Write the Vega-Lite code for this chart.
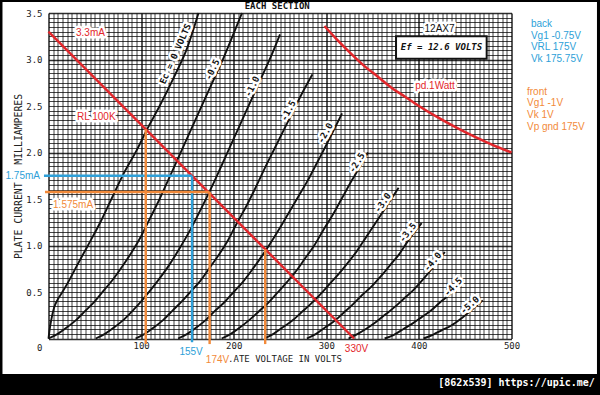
{
"$schema":"https://vega.github.io/schema/vega-lite/v6.json",
"width":463,"height":325.5,
"autosize":{"type":"none"},
"padding":{"left":48.5,"top":13,"right":88.5,"bottom":56.5},
"background":"white",
"config":{"view":{"stroke":null},"axis":{"labelFont":"DejaVu Sans Mono","titleFont":"DejaVu Sans Mono"}},
"datasets":{
"frame":[
{"V":-60,"V2":620,"I":-0.382,"I2":-0.9},
{"V":-60,"V2":620,"I":3.618,"I2":3.9},
{"V":-60,"V2":-49.7,"I":-1,"I2":4},
{"V":592.3,"V2":620,"I":-1,"I2":4}],
"heading":[{"text":"EACH SECTION","V":247,"I":3.575}],
"curves":[
{"Ec":0,"V":0,"I":0},{"Ec":0,"V":1,"I":0.08},{"Ec":0,"V":3,"I":0.2},{"Ec":0,"V":6,"I":0.33},{"Ec":0,"V":10,"I":0.42},{"Ec":0,"V":15,"I":0.5},{"Ec":0,"V":22,"I":0.62},{"Ec":0,"V":30,"I":0.77},{"Ec":0,"V":42,"I":0.99},{"Ec":0,"V":56,"I":1.25},{"Ec":0,"V":67,"I":1.48},{"Ec":0,"V":81,"I":1.77},{"Ec":0,"V":95,"I":2.02},{"Ec":0,"V":107,"I":2.26},{"Ec":0,"V":120,"I":2.5},{"Ec":0,"V":135,"I":2.8},{"Ec":0,"V":150,"I":3.13},{"Ec":0,"V":162,"I":3.5},
{"Ec":-0.5,"V":0,"I":0},{"Ec":-0.5,"V":10,"I":0.05},{"Ec":-0.5,"V":20,"I":0.12},{"Ec":-0.5,"V":30,"I":0.2},{"Ec":-0.5,"V":40,"I":0.3},{"Ec":-0.5,"V":50,"I":0.4},{"Ec":-0.5,"V":60,"I":0.52},{"Ec":-0.5,"V":70,"I":0.64},{"Ec":-0.5,"V":80,"I":0.78},{"Ec":-0.5,"V":90,"I":0.93},{"Ec":-0.5,"V":100,"I":1.1},{"Ec":-0.5,"V":110,"I":1.3},{"Ec":-0.5,"V":120,"I":1.5},{"Ec":-0.5,"V":130,"I":1.72},{"Ec":-0.5,"V":140,"I":1.94},{"Ec":-0.5,"V":150,"I":2.16},{"Ec":-0.5,"V":160,"I":2.38},{"Ec":-0.5,"V":170,"I":2.6},{"Ec":-0.5,"V":180,"I":2.82},{"Ec":-0.5,"V":190,"I":3.04},{"Ec":-0.5,"V":200,"I":3.28},{"Ec":-0.5,"V":209,"I":3.5},
{"Ec":-1,"V":51,"I":0},{"Ec":-1,"V":61,"I":0.05},{"Ec":-1,"V":71,"I":0.12},{"Ec":-1,"V":81,"I":0.2},{"Ec":-1,"V":91,"I":0.3},{"Ec":-1,"V":101,"I":0.41},{"Ec":-1,"V":111,"I":0.53},{"Ec":-1,"V":121,"I":0.66},{"Ec":-1,"V":131,"I":0.8},{"Ec":-1,"V":141,"I":0.96},{"Ec":-1,"V":151,"I":1.13},{"Ec":-1,"V":161,"I":1.32},{"Ec":-1,"V":171,"I":1.52},{"Ec":-1,"V":181,"I":1.73},{"Ec":-1,"V":191,"I":1.95},{"Ec":-1,"V":201,"I":2.17},{"Ec":-1,"V":211,"I":2.39},{"Ec":-1,"V":221,"I":2.61},{"Ec":-1,"V":231,"I":2.83},{"Ec":-1,"V":241,"I":3.05},{"Ec":-1,"V":250,"I":3.27},
{"Ec":-1.5,"V":94,"I":0},{"Ec":-1.5,"V":104,"I":0.05},{"Ec":-1.5,"V":114,"I":0.12},{"Ec":-1.5,"V":124,"I":0.2},{"Ec":-1.5,"V":134,"I":0.3},{"Ec":-1.5,"V":144,"I":0.4},{"Ec":-1.5,"V":154,"I":0.51},{"Ec":-1.5,"V":164,"I":0.62},{"Ec":-1.5,"V":174,"I":0.76},{"Ec":-1.5,"V":184,"I":0.9},{"Ec":-1.5,"V":194,"I":1.06},{"Ec":-1.5,"V":204,"I":1.25},{"Ec":-1.5,"V":214,"I":1.43},{"Ec":-1.5,"V":224,"I":1.63},{"Ec":-1.5,"V":234,"I":1.84},{"Ec":-1.5,"V":244,"I":2.04},{"Ec":-1.5,"V":254,"I":2.24},{"Ec":-1.5,"V":264,"I":2.44},{"Ec":-1.5,"V":274,"I":2.64},{"Ec":-1.5,"V":285,"I":2.84},
{"Ec":-2,"V":140,"I":0},{"Ec":-2,"V":150,"I":0.05},{"Ec":-2,"V":160,"I":0.12},{"Ec":-2,"V":170,"I":0.2},{"Ec":-2,"V":180,"I":0.3},{"Ec":-2,"V":190,"I":0.39},{"Ec":-2,"V":200,"I":0.5},{"Ec":-2,"V":210,"I":0.61},{"Ec":-2,"V":220,"I":0.74},{"Ec":-2,"V":230,"I":0.88},{"Ec":-2,"V":240,"I":1.03},{"Ec":-2,"V":250,"I":1.19},{"Ec":-2,"V":260,"I":1.36},{"Ec":-2,"V":270,"I":1.53},{"Ec":-2,"V":280,"I":1.7},{"Ec":-2,"V":290,"I":1.89},{"Ec":-2,"V":300,"I":2.08},{"Ec":-2,"V":317,"I":2.42},
{"Ec":-2.5,"V":187,"I":0},{"Ec":-2.5,"V":197,"I":0.05},{"Ec":-2.5,"V":207,"I":0.12},{"Ec":-2.5,"V":217,"I":0.2},{"Ec":-2.5,"V":227,"I":0.29},{"Ec":-2.5,"V":237,"I":0.38},{"Ec":-2.5,"V":247,"I":0.49},{"Ec":-2.5,"V":257,"I":0.6},{"Ec":-2.5,"V":267,"I":0.72},{"Ec":-2.5,"V":277,"I":0.86},{"Ec":-2.5,"V":287,"I":1.0},{"Ec":-2.5,"V":297,"I":1.17},{"Ec":-2.5,"V":307,"I":1.33},{"Ec":-2.5,"V":317,"I":1.51},{"Ec":-2.5,"V":327,"I":1.69},{"Ec":-2.5,"V":337,"I":1.86},{"Ec":-2.5,"V":345,"I":2.0},
{"Ec":-3,"V":233,"I":0},{"Ec":-3,"V":243,"I":0.05},{"Ec":-3,"V":253,"I":0.12},{"Ec":-3,"V":263,"I":0.19},{"Ec":-3,"V":273,"I":0.28},{"Ec":-3,"V":283,"I":0.37},{"Ec":-3,"V":293,"I":0.47},{"Ec":-3,"V":303,"I":0.58},{"Ec":-3,"V":313,"I":0.69},{"Ec":-3,"V":323,"I":0.81},{"Ec":-3,"V":333,"I":0.94},{"Ec":-3,"V":343,"I":1.09},{"Ec":-3,"V":353,"I":1.24},{"Ec":-3,"V":363,"I":1.39},{"Ec":-3,"V":378,"I":1.62},
{"Ec":-3.5,"V":279,"I":0},{"Ec":-3.5,"V":289,"I":0.05},{"Ec":-3.5,"V":299,"I":0.12},{"Ec":-3.5,"V":309,"I":0.19},{"Ec":-3.5,"V":319,"I":0.28},{"Ec":-3.5,"V":329,"I":0.37},{"Ec":-3.5,"V":339,"I":0.47},{"Ec":-3.5,"V":349,"I":0.56},{"Ec":-3.5,"V":359,"I":0.67},{"Ec":-3.5,"V":369,"I":0.79},{"Ec":-3.5,"V":379,"I":0.91},{"Ec":-3.5,"V":389,"I":1.06},{"Ec":-3.5,"V":403,"I":1.24},
{"Ec":-4,"V":324,"I":0},{"Ec":-4,"V":334,"I":0.05},{"Ec":-4,"V":344,"I":0.11},{"Ec":-4,"V":354,"I":0.18},{"Ec":-4,"V":364,"I":0.26},{"Ec":-4,"V":374,"I":0.34},{"Ec":-4,"V":384,"I":0.43},{"Ec":-4,"V":394,"I":0.52},{"Ec":-4,"V":404,"I":0.63},{"Ec":-4,"V":414,"I":0.75},{"Ec":-4,"V":428,"I":0.93},
{"Ec":-4.5,"V":363,"I":0},{"Ec":-4.5,"V":373,"I":0.04},{"Ec":-4.5,"V":383,"I":0.1},{"Ec":-4.5,"V":393,"I":0.16},{"Ec":-4.5,"V":403,"I":0.23},{"Ec":-4.5,"V":413,"I":0.3},{"Ec":-4.5,"V":423,"I":0.39},{"Ec":-4.5,"V":433,"I":0.47},{"Ec":-4.5,"V":448,"I":0.63},
{"Ec":-5,"V":405,"I":0},{"Ec":-5,"V":415,"I":0.04},{"Ec":-5,"V":425,"I":0.09},{"Ec":-5,"V":435,"I":0.14},{"Ec":-5,"V":445,"I":0.21},{"Ec":-5,"V":455,"I":0.29},{"Ec":-5,"V":469,"I":0.41}],
"pd":[{"V":298,"I":3.36},{"V":310,"I":3.23},{"V":325,"I":3.08},{"V":340,"I":2.94},{"V":355,"I":2.82},{"V":370,"I":2.7},{"V":385,"I":2.6},{"V":400,"I":2.5},{"V":420,"I":2.38},{"V":440,"I":2.27},{"V":460,"I":2.17},{"V":480,"I":2.08},{"V":500,"I":2.0}],
"guides":[
{"seg":"rl","kind":"load","V":0,"I":3.3},{"seg":"rl","kind":"load","V":330,"I":0},
{"seg":"bh","kind":"back","V":-4.9,"I":1.75},{"seg":"bh","kind":"back","V":155,"I":1.75},
{"seg":"bv","kind":"back","V":155,"I":1.75},{"seg":"bv","kind":"back","V":155,"I":-0.04},
{"seg":"fh","kind":"front","V":-3.8,"I":1.575},{"seg":"fh","kind":"front","V":174,"I":1.575},
{"seg":"fv1","kind":"front","V":174,"I":1.575},{"seg":"fv1","kind":"front","V":174,"I":-0.06},
{"seg":"fv2","kind":"front","V":105,"I":2.25},{"seg":"fv2","kind":"front","V":105,"I":-0.06},
{"seg":"fv3","kind":"front","V":234,"I":0.96},{"seg":"fv3","kind":"front","V":234,"I":-0.06}],
"curveLabels":[
{"Ec":0,"V":137,"I":3.06,"text":"Ec = 0 VOLTS"},
{"Ec":-0.5,"V":177,"I":2.89,"text":"-0.5"},
{"Ec":-1,"V":220,"I":2.71,"text":"-1.0"},
{"Ec":-1.5,"V":259,"I":2.45,"text":"-1.5"},
{"Ec":-2,"V":299,"I":2.21,"text":"-2.0"},
{"Ec":-2.5,"V":333,"I":1.89,"text":"-2.5"},
{"Ec":-3,"V":361,"I":1.46,"text":"-3.0"},
{"Ec":-3.5,"V":388,"I":1.14,"text":"-3.5"},
{"Ec":-4,"V":415,"I":0.825,"text":"-4.0"},
{"Ec":-4.5,"V":437,"I":0.555,"text":"-4.5"},
{"Ec":-5,"V":455,"I":0.36,"text":"-5.0"}],
"notesL":[
{"text":"3.3mA","kind":"load","V":29.7,"I":3.29},
{"text":"RL 100K","kind":"load","V":30.8,"I":2.385},
{"text":"1.575mA","kind":"front","V":4.9,"I":1.437},
{"text":"back","kind":"back","V":521,"I":3.387},
{"text":"Vg1 -0.75V","kind":"back","V":521,"I":3.258},
{"text":"VRL 175V","kind":"back","V":521,"I":3.139},
{"text":"Vk 175.75V","kind":"back","V":521,"I":3.01},
{"text":"front","kind":"front","V":516.7,"I":2.654},
{"text":"Vg1 -1V","kind":"front","V":516.7,"I":2.531},
{"text":"Vk 1V","kind":"front","V":516.7,"I":2.407},
{"text":"Vp gnd 175V","kind":"front","V":516.7,"I":2.278}],
"notesC":[
{"text":"155V","kind":"back","V":154,"I":-0.145},
{"text":"174V","kind":"front","V":182.5,"I":-0.23},
{"text":"330V","kind":"load","V":332.6,"I":-0.108},
{"text":"pd.1Watt","kind":"load","V":417.4,"I":2.719},
{"text":"12AX7","kind":"tube","V":422.3,"I":3.333}],
"notesR":[{"text":"1.75mA","kind":"back","V":-9.2,"I":1.75}],
"efbox":[{"V":375.3,"V2":473.2,"I":3.25,"I2":3.007,"text":"Ef = 12.6 VOLTS","Vc":424.4,"Ic":3.13}],
"mark":[{"text":"[862x539] https://upic.me/","V":590,"I":-0.479}]
},
"encoding":{
"x":{"field":"V","type":"quantitative","scale":{"domain":[0,500],"nice":false,"zero":false},
 "axis":{"title":".ATE VOLTAGE IN VOLTS","titleFontSize":9,"titleFontWeight":"normal","titleColor":"#222","titleX":236,"titleY":20,"titleBaseline":"middle","titleAlign":"center",
 "tickCount":100,"labelExpr":"datum.value % 100 === 0 && datum.value > 0 ? datum.value : ''","labelFontSize":9,"labelColor":"#222","labelPadding":3,"labelOverlap":false,"labelFlush":false,
 "ticks":false,"tickSize":0,"domain":false,"grid":true,"gridColor":"#000","gridOpacity":0.82,
 "gridWidth":{"condition":{"test":"datum.value % 100 === 0","value":1.6},"value":0.9}}},
"y":{"field":"I","type":"quantitative","scale":{"domain":[0,3.5],"nice":false,"zero":false},
 "axis":{"title":"PLATE CURRENT\u00a0\u00a0\u00a0MILLIAMPERES","titleFontSize":9.8,"titleFontWeight":"normal","titleColor":"#222","titleX":-30.5,"titleY":163,"titleBaseline":"middle","titleAlign":"center","titleAngle":270,
 "tickCount":70,"labelExpr":"datum.value === 0 ? '0' : ((datum.value * 2) % 1 === 0 ? format(datum.value, '.1f') : '')","labelFontSize":9,"labelColor":"#222","labelPadding":6.5,"labelOverlap":false,"labelFlush":false,
 "labelOffset":{"condition":{"test":"datum.value === 0","value":9},"value":0},
 "ticks":false,"tickSize":0,"domain":false,"grid":true,"gridColor":"#000","gridOpacity":0.82,
 "gridWidth":{"condition":{"test":"datum.value % 1 === 0 || datum.value === 3.5","value":1.7},"value":0.9}}}
},
"layer":[
{"data":{"name":"frame"},"mark":{"type":"rect","color":"black","clip":false},"encoding":{"x2":{"field":"V2"},"y2":{"field":"I2"}}},
{"data":{"name":"heading"},"mark":{"type":"text","font":"DejaVu Sans Mono","fontSize":9,"fontWeight":"bold","fill":"#111","align":"center","baseline":"middle","clip":false},"encoding":{"text":{"field":"text"}}},
{"data":{"name":"curves"},"mark":{"type":"line","color":"#111","strokeWidth":1.9,"interpolate":"monotone"},"encoding":{"detail":{"field":"Ec","type":"nominal"}}},
{"data":{"name":"pd"},"mark":{"type":"line","color":"#e3262b","strokeWidth":2.5,"interpolate":"monotone"},"encoding":{}},
{"data":{"name":"guides"},"mark":{"type":"line","strokeWidth":2.4,"clip":false},"encoding":{"detail":{"field":"seg","type":"nominal"},"color":{"field":"kind","type":"nominal","scale":{"domain":["load","back","front","tube"],"range":["#e3262b","#2e9fd8","#f28a3a","#111111"]},"legend":null}}},
{"data":{"name":"curveLabels"},"mark":{"type":"text","font":"DejaVu Sans Mono","fontSize":9,"fontWeight":"bold","stroke":"white","strokeWidth":5,"strokeJoin":"round","fill":"white","align":"center","baseline":"middle"},"encoding":{"text":{"field":"text"},"angle":{"field":"Ec","type":"quantitative","scale":{"domain":[-5,-4,-3,-2,0],"range":[318,310,305,299,294]},"legend":null}}},
{"data":{"name":"curveLabels"},"mark":{"type":"text","font":"DejaVu Sans Mono","fontSize":9,"fontWeight":"bold","fill":"#111","align":"center","baseline":"middle"},"encoding":{"text":{"field":"text"},"angle":{"field":"Ec","type":"quantitative","scale":{"domain":[-5,-4,-3,-2,0],"range":[318,310,305,299,294]},"legend":null}}},
{"data":{"name":"efbox"},"mark":{"type":"rect","fill":"white","stroke":"#111","strokeWidth":2},"encoding":{"x2":{"field":"V2"},"y2":{"field":"I2"}}},
{"data":{"name":"efbox"},"mark":{"type":"text","font":"DejaVu Sans Mono","fontSize":9,"fontWeight":"bold","fontStyle":"italic","fill":"#111","align":"center","baseline":"middle"},"encoding":{"x":{"field":"Vc","type":"quantitative"},"y":{"field":"Ic","type":"quantitative"},"text":{"field":"text"}}},
{"data":{"name":"notesL"},"mark":{"type":"text","font":"Liberation Sans","fontSize":10,"stroke":"white","strokeWidth":5,"strokeJoin":"round","fill":"white","align":"left","baseline":"middle","clip":false},"encoding":{"text":{"field":"text"}}},
{"data":{"name":"notesC"},"mark":{"type":"text","font":"Liberation Sans","fontSize":10,"stroke":"white","strokeWidth":5,"strokeJoin":"round","fill":"white","align":"center","baseline":"middle","clip":false},"encoding":{"text":{"field":"text"}}},
{"data":{"name":"notesR"},"mark":{"type":"text","font":"Liberation Sans","fontSize":10,"stroke":"white","strokeWidth":5,"strokeJoin":"round","fill":"white","align":"right","baseline":"middle","clip":false},"encoding":{"text":{"field":"text"}}},
{"data":{"name":"notesL"},"mark":{"type":"text","font":"Liberation Sans","fontSize":10,"align":"left","baseline":"middle","clip":false},"encoding":{"text":{"field":"text"},"color":{"field":"kind","type":"nominal","scale":{"domain":["load","back","front","tube"],"range":["#e3262b","#2e9fd8","#f28a3a","#111111"]},"legend":null}}},
{"data":{"name":"notesC"},"mark":{"type":"text","font":"Liberation Sans","fontSize":10,"align":"center","baseline":"middle","clip":false},"encoding":{"text":{"field":"text"},"color":{"field":"kind","type":"nominal","scale":{"domain":["load","back","front","tube"],"range":["#e3262b","#2e9fd8","#f28a3a","#111111"]},"legend":null}}},
{"data":{"name":"notesR"},"mark":{"type":"text","font":"Liberation Sans","fontSize":10,"align":"right","baseline":"middle","clip":false},"encoding":{"text":{"field":"text"},"color":{"field":"kind","type":"nominal","scale":{"domain":["load","back","front","tube"],"range":["#e3262b","#2e9fd8","#f28a3a","#111111"]},"legend":null}}},
{"data":{"name":"mark"},"mark":{"type":"text","font":"DejaVu Sans Mono","fontSize":10,"fontWeight":"bold","fill":"white","align":"right","baseline":"middle","clip":false},"encoding":{"text":{"field":"text"}}}
]
}
